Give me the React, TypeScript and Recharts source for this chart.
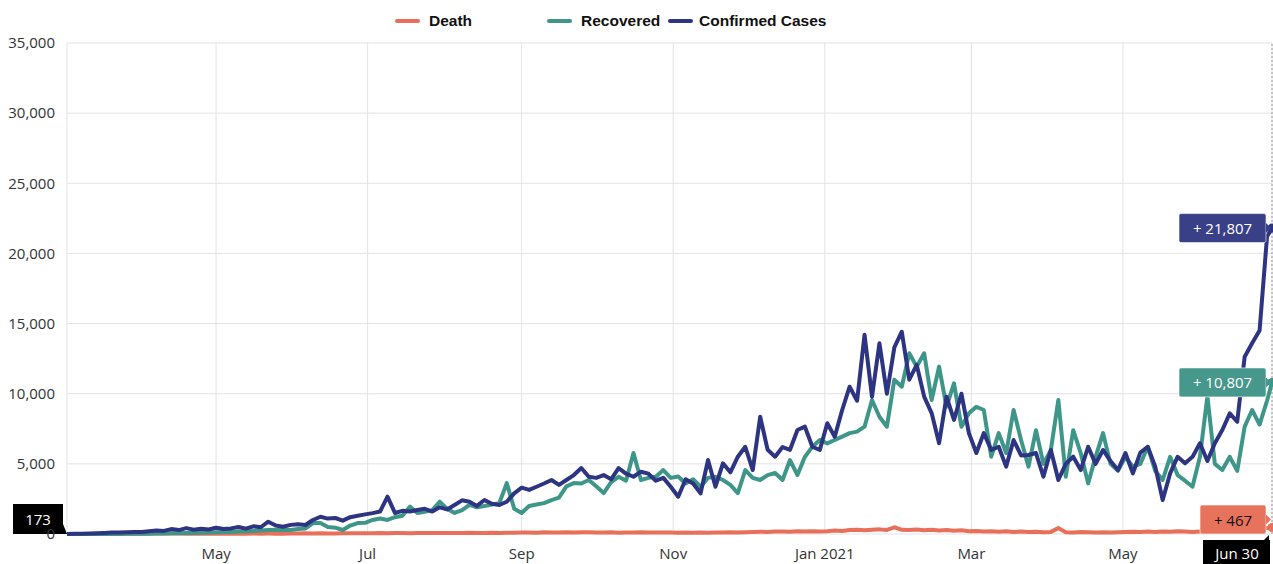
import React from 'react';
import { LineChart, Line, XAxis, YAxis, CartesianGrid, ReferenceDot, ReferenceLine } from 'recharts';

// Day offsets are counted from 2 Mar 2020; one sample every 3 days, last sample on 30 Jun 2021 (day 485).
const STEP_DAYS = 3;
const LAST_DAY = 485;

const confirmed = [
  2, 10, 25, 40, 60, 80, 100, 110, 130, 150,
  150, 200, 250, 220, 350, 280, 420, 300, 380, 320,
  450, 350, 400, 500, 380, 550, 480, 880, 600, 520,
  650, 700, 640, 1000, 1230, 1100, 1140, 950, 1200, 1300,
  1400, 1490, 1600, 2660, 1500, 1650, 1600, 1710, 1800, 1600,
  1900, 1750, 2070, 2400, 2300, 2000, 2420, 2150, 2070, 2300,
  2900, 3300, 3140, 3370, 3600, 3850, 3500, 3850, 4200, 4700,
  4080, 4000, 4200, 3900, 4700, 4300, 4080, 4440, 4300, 3800,
  4000, 3370, 2660, 3900, 3600, 2900, 5270, 3370, 5040, 4400,
  5510, 6220, 4560, 8360, 6000, 5510, 6200, 6000, 7410, 7650,
  6220, 5990, 7900, 6930, 8840, 10500, 9500, 14200, 9790, 13600,
  10000, 13300, 14420, 11000, 12050, 9790, 8620, 6470, 9790, 8130,
  10000, 7190, 5770, 7190, 6000, 6220, 4800, 6700, 5600, 5630,
  5770, 4080, 5990, 3850, 5000, 5510, 4560, 6220, 5000, 5990,
  5200, 4560, 5770, 4320, 5800, 6220, 4800, 2420, 4320, 5510,
  5040, 5500, 6470, 5200, 6470, 7410, 8600, 8000, 12640, 13600,
  14500, 21200, 21807,
];

const recovered = [
  0, 0, 0, 0, 0, 2, 5, 8, 10, 15,
  20, 25, 30, 40, 50, 60, 70, 80, 90, 100,
  120, 140, 150, 170, 200, 220, 250, 280, 300, 280,
  285, 350, 400, 780, 780, 500, 450, 285, 600, 780,
  800, 1000, 1100, 1000, 1200, 1300, 1950, 1500, 1590, 1700,
  2300, 1800, 1500, 1700, 2070, 1900, 2000, 2100, 2200, 3630,
  1800, 1500, 2000, 2100, 2200, 2420, 2600, 3400, 3630, 3600,
  3850, 3400, 2920, 3700, 4080, 3800, 5770, 3850, 4000, 4080,
  4560, 4000, 4100, 3600, 3900, 3370, 4000, 4080, 3850, 3500,
  2920, 4560, 4000, 3850, 4200, 4350, 3850, 5270, 4200, 5500,
  6220, 6700, 6460, 6700, 6940, 7190, 7300, 7650, 9550, 8360,
  7650, 11000, 10500, 12880, 11930, 12880, 9550, 11930, 9070, 10740,
  7650, 8600, 9070, 8840, 5510, 7190, 5770, 8840, 6700, 4800,
  7400, 5000, 6000, 9550, 4080, 7400, 5770, 3610, 5500, 7190,
  5000, 4500, 5500, 4800, 5000, 6220, 4500, 3850, 5500, 4200,
  3800, 3370, 5500, 9800, 5000, 4560, 5500, 4500, 7650, 8840,
  7800, 9500, 10807,
];

const deaths = [
  0, 0, 1, 4, 6, 12, 20, 15, 18, 20,
  25, 30, 46, 28, 40, 36, 20, 25, 30, 20,
  25, 20, 30, 15, 20, 30, 25, 28, 22, 25,
  35, 40, 45, 30, 50, 35, 40, 55, 45, 50,
  60, 60, 70, 55, 65, 75, 60, 70, 80, 65,
  70, 80, 75, 65, 85, 70, 80, 90, 75, 85,
  95, 100, 110, 95, 120, 105, 115, 130, 110, 125,
  120, 110, 105, 120, 95, 115, 100, 125, 110, 100,
  115, 105, 90, 100, 85, 110, 95, 105, 100, 120,
  110, 130, 140, 160, 150, 170, 180, 160, 190, 170,
  200, 180, 200, 250, 220, 280, 300, 270, 310, 330,
  290, 480, 300, 280, 320, 260, 300, 250, 280, 230,
  260, 200, 220, 180, 200, 160, 190, 150, 170, 140,
  160, 130, 150, 420, 130, 110, 140, 120, 100, 130,
  110, 120, 140, 160, 150, 170, 140, 180, 160, 190,
  170, 150, 180, 190, 210, 230, 250, 280, 320, 350,
  380, 420, 467,
];

const monthTicks = [60, 121, 183, 244, 305, 364, 425];
const monthLabels = ['May', 'Jul', 'Sep', 'Nov', 'Jan 2021', 'Mar', 'May'];
const yTicks = [0, 5000, 10000, 15000, 20000, 25000, 30000, 35000];

const seriesNames = ['Death', 'Recovered', 'Confirmed Cases'];
const cursorDateLabel = 'Jun 30';
const cursorValueLabel = '173';

const DEATH_COLOR = '#e8705a';
const RECOVERED_COLOR = '#3e9689';
const CONFIRMED_COLOR = '#2d3481';

const days = confirmed.map((_, i) => (i < confirmed.length - 1 ? i * STEP_DAYS : LAST_DAY));
const data = days.map((d, i) => ({ d, death: deaths[i], recovered: recovered[i], confirmed: confirmed[i] }));

const last = data[data.length - 1];

const FONT = "'Open Sans', 'Noto Sans', sans-serif";

const fmt = (v: number) => v.toLocaleString('en-US');

function ValueCallout(props: any) {
  const { cx, cy, fill, textColor, text, boxW, maxBottom, dotColor } = props;
  if (cx == null || cy == null) return null;
  const h = 29;
  let cyBox = cy;
  if (maxBottom != null && cyBox + h / 2 > maxBottom) cyBox = maxBottom - h / 2;
  const right = cx - 6;
  const left = right - boxW;
  return (
    <g>
      <circle cx={cx} cy={cy} r={4.5} fill={dotColor} />
      <rect x={left} y={cyBox - h / 2} width={boxW} height={h} rx={2} fill={fill} stroke="#ffffff" strokeOpacity={0.6} strokeWidth={1} />
      <path d={`M${right},${cyBox - 5} L${right + 5},${cyBox} L${right},${cyBox + 5} Z`} fill={fill} />
      <text x={left + boxW / 2} y={cyBox} textAnchor="middle" dominantBaseline="central" fill={textColor} fontFamily={FONT} fontSize={15}>
        {text}
      </text>
    </g>
  );
}

function DateCallout(props: any) {
  const { cx, cy } = props;
  if (cx == null || cy == null) return null;
  const top = cy + 6;
  return (
    <g>
      <rect x={cx - 69} y={top} width={67} height={30} fill="#000000" />
      <path d={`M${cx - 8},${top} L${cx - 3},${top - 5} L${cx - 3},${top} Z`} fill="#000000" />
      <text x={cx - 35} y={top + 13} textAnchor="middle" dominantBaseline="central" fill="#ffffff" fontFamily={FONT} fontSize={15}>
        {cursorDateLabel}
      </text>
    </g>
  );
}

function AxisValueCallout(props: any) {
  const { cx, cy } = props;
  if (cx == null || cy == null) return null;
  const right = cx - 4;
  return (
    <g>
      <rect x={right - 50} y={cy - 30} width={50} height={30} fill="#000000" />
      <path d={`M${right},${cy - 10} L${cx},${cy} L${right},${cy} Z`} fill="#000000" />
      <text x={right - 25} y={cy - 15} textAnchor="middle" dominantBaseline="central" fill="#ffffff" fontFamily={FONT} fontSize={15}>
        {cursorValueLabel}
      </text>
    </g>
  );
}

const legendColors = [DEATH_COLOR, RECOVERED_COLOR, CONFIRMED_COLOR];
const legendSwatchX = [395, 547, 668];

export default function App() {
  return (
    <div style={{ position: 'absolute', left: 0, top: 0, width: 1273, height: 564, background: '#ffffff', overflow: 'hidden' }}>
      <LineChart width={1273} height={564} data={data} margin={{ top: 43, right: 1, bottom: 0, left: 0 }}>
        <CartesianGrid stroke="#e3e3e3" strokeWidth={1} />
        <XAxis
          dataKey="d"
          type="number"
          domain={[0, LAST_DAY]}
          ticks={monthTicks}
          tickFormatter={(v: number) => monthLabels[monthTicks.indexOf(v)] ?? ''}
          axisLine={false}
          tickLine={false}
          height={30}
          tickMargin={8}
          tick={{ fontFamily: FONT, fontSize: 15, fill: '#333333' }}
        />
        <YAxis
          type="number"
          domain={[0, 35000]}
          ticks={yTicks}
          tickFormatter={fmt}
          axisLine={false}
          tickLine={false}
          width={67}
          tickMargin={6}
          tick={{ fontFamily: FONT, fontSize: 15, fill: '#333333' }}
        />
        <ReferenceLine x={LAST_DAY} stroke="#9a9a9a" strokeDasharray="2 2" />
        <Line type="linear" dataKey="death" name={seriesNames[0]} stroke={DEATH_COLOR} strokeWidth={4} dot={false} isAnimationActive={false} strokeLinejoin="round" />
        <Line type="linear" dataKey="recovered" name={seriesNames[1]} stroke={RECOVERED_COLOR} strokeWidth={4} dot={false} isAnimationActive={false} strokeLinejoin="round" />
        <Line type="linear" dataKey="confirmed" name={seriesNames[2]} stroke={CONFIRMED_COLOR} strokeWidth={4} dot={false} isAnimationActive={false} strokeLinejoin="round" />
        <ReferenceDot x={last.d} y={last.confirmed} r={0} shape={(p: any) => <ValueCallout {...p} fill="#3a4088" textColor="#ffffff" dotColor={CONFIRMED_COLOR} text={`+ ${fmt(last.confirmed)}`} boxW={87} />} />
        <ReferenceDot x={last.d} y={last.recovered} r={0} shape={(p: any) => <ValueCallout {...p} fill="#46978c" textColor="#ffffff" dotColor={RECOVERED_COLOR} text={`+ ${fmt(last.recovered)}`} boxW={87} />} />
        <ReferenceDot x={last.d} y={last.death} r={0} shape={(p: any) => <ValueCallout {...p} fill="#e8735d" textColor="#111111" dotColor={DEATH_COLOR} text={`+ ${fmt(last.death)}`} boxW={66} maxBottom={534} />} />
        <ReferenceDot x={last.d} y={0} r={0} shape={(p: any) => <DateCallout {...p} />} />
        <ReferenceDot x={0} y={0} r={0} shape={(p: any) => <AxisValueCallout {...p} />} />
      </LineChart>
      {seriesNames.map((name, i) => (
        <div key={name} style={{ position: 'absolute', left: legendSwatchX[i], top: 11, height: 20, display: 'flex', alignItems: 'center' }}>
          <span style={{ display: 'inline-block', width: 25, height: 4, borderRadius: 2, background: legendColors[i], marginRight: i === 2 ? 6 : 9 }} />
          <span style={{ fontFamily: "'Liberation Sans', Arial, sans-serif", fontWeight: 'bold', fontSize: 15.5, color: '#111111' }}>{name}</span>
        </div>
      ))}
    </div>
  );
}
